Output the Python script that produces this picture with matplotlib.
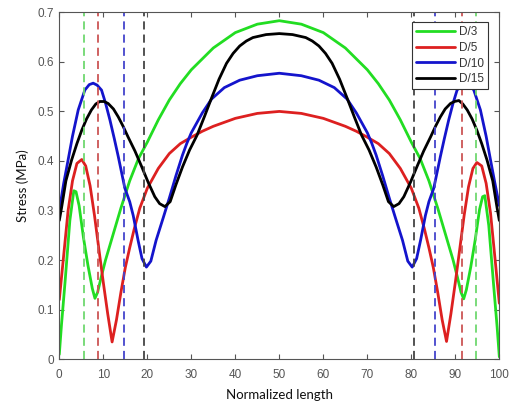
import matplotlib
matplotlib.use("Agg")
import matplotlib.pyplot as plt

# ---------------- data ----------------
labels = ["D/3", "D/5", "D/10", "D/15"]

x_d3 = [0, 0.5, 1.3, 2.4, 3.3, 3.8, 4.5, 5.5, 6.5, 7.5, 8.1, 8.7, 9.5, 10.5, 12, 14, 16, 18, 20, 22.5,
        25, 27.5, 30, 35, 40, 45, 50, 55, 60, 65, 70, 72.5, 75, 77.5, 80, 82, 84, 86, 88, 89.5,
        90.5, 91.3, 91.9, 92.5, 93.5, 94.5, 95.5, 96.2, 96.7, 97.6, 98.7, 99.5, 100]
y_d3 = [0.01, 0.07, 0.155, 0.28, 0.34, 0.338, 0.31, 0.245, 0.19, 0.143, 0.123, 0.135, 0.165, 0.2, 0.245,
        0.305, 0.36, 0.405, 0.438, 0.483, 0.523, 0.556, 0.584, 0.628, 0.659, 0.676, 0.683, 0.676, 0.659,
        0.628, 0.584, 0.556, 0.523, 0.483, 0.438, 0.405, 0.36, 0.305, 0.245, 0.2, 0.165, 0.135, 0.122,
        0.14, 0.186, 0.24, 0.302, 0.328, 0.33, 0.27, 0.15, 0.065, 0.005]

x_d5 = [0, 1, 2, 3, 4, 5.1, 6, 7, 8, 9, 10, 11, 12, 13, 14, 15, 16, 17, 18.3, 20, 22.5, 25, 27.5, 30,
        32.5, 35, 40, 45, 50, 55, 60, 65, 67.5, 70, 72.5, 75, 77.5, 80, 81.7, 83, 84, 85, 86, 87, 88,
        89, 90, 91, 92, 93, 94, 94.9, 96, 97, 98, 99, 100]
y_d5 = [0.12, 0.21, 0.3, 0.36, 0.395, 0.403, 0.39, 0.35, 0.29, 0.222, 0.155, 0.092, 0.035, 0.08, 0.135,
        0.185, 0.225, 0.262, 0.305, 0.345, 0.385, 0.415, 0.435, 0.448, 0.46, 0.47, 0.486, 0.496, 0.5,
        0.496, 0.486, 0.47, 0.46, 0.448, 0.435, 0.415, 0.385, 0.345, 0.305, 0.262, 0.225, 0.185, 0.135,
        0.08, 0.036, 0.092, 0.155, 0.222, 0.29, 0.348, 0.385, 0.397, 0.39, 0.355, 0.295, 0.205, 0.113]

x_d10 = [0, 1, 2, 3, 4.3, 5.8, 6.8, 7.7, 8.6, 9.6, 10.5, 11.5, 12.5, 13.4, 14.9, 16, 16.8, 17.9, 18.8,
         19.8, 20.8, 22, 23.6, 25, 26.5, 28, 29, 30, 32.5, 34.6, 37.5, 41, 45, 50, 55, 59, 62.5, 65.4,
         67.5, 70, 71, 72, 73.5, 75, 76.4, 78, 79.2, 80.2, 81.2, 82.1, 83.2, 84, 85.1, 86.6, 87.5, 88.5,
         89.5, 90.4, 91.4, 92.3, 93.2, 94.2, 95.7, 97, 98, 99, 100]
y_d10 = [0.3, 0.355, 0.402, 0.45, 0.503, 0.543, 0.554, 0.557, 0.553, 0.543, 0.517, 0.483, 0.445, 0.409,
         0.345, 0.318, 0.29, 0.24, 0.203, 0.186, 0.198, 0.24, 0.285, 0.325, 0.37, 0.412, 0.436, 0.457,
         0.497, 0.525, 0.548, 0.563, 0.572, 0.577, 0.572, 0.563, 0.548, 0.525, 0.497, 0.457, 0.436, 0.412,
         0.37, 0.325, 0.285, 0.24, 0.198, 0.186, 0.203, 0.24, 0.29, 0.318, 0.345, 0.409, 0.445, 0.483,
         0.517, 0.543, 0.553, 0.557, 0.554, 0.543, 0.503, 0.45, 0.402, 0.355, 0.31]

x_d15 = [0, 0.5, 1.5, 2.8, 4, 5.1, 6.2, 7.3, 8.3, 9.2, 10.2, 11.1, 12.3, 13.4, 14.5, 15.6, 17.2, 18.7,
         20.2, 21.7, 22.8, 24, 25.2, 26.5, 28, 29.6, 31.3, 33, 34.6, 36.3, 38, 39.5, 41, 42.5, 44, 47,
         50, 53, 56, 57.5, 59, 60.5, 62, 63.7, 65.4, 67, 68.7, 70.4, 72, 73.5, 74.8, 76, 77.2, 78.3,
         79.8, 81.3, 82.8, 84.4, 85.5, 86.6, 87.7, 88.9, 89.8, 90.8, 91.7, 92.7, 93.8, 94.9, 96, 97.2,
         98.5, 99.5, 100]
y_d15 = [0.28, 0.305, 0.36, 0.402, 0.435, 0.462, 0.485, 0.503, 0.515, 0.52, 0.52, 0.516, 0.505, 0.489,
         0.47, 0.449, 0.42, 0.389, 0.357, 0.328, 0.314, 0.308, 0.318, 0.352, 0.388, 0.422, 0.452, 0.49,
         0.527, 0.565, 0.597, 0.617, 0.632, 0.642, 0.649, 0.655, 0.657, 0.655, 0.649, 0.642, 0.632,
         0.617, 0.597, 0.565, 0.527, 0.49, 0.452, 0.422, 0.388, 0.352, 0.318, 0.308, 0.314, 0.328, 0.357,
         0.389, 0.42, 0.449, 0.47, 0.489, 0.505, 0.516, 0.52, 0.522, 0.515, 0.503, 0.485, 0.462, 0.435,
         0.402, 0.36, 0.305, 0.28]

# boundary (dashed) positions for each case
bounds_d3 = [5.5, 94.6]
bounds_d5 = [8.7, 91.5]
bounds_d10 = [14.8, 85.3]
bounds_d15 = [19.3, 80.7]

xticks = [0, 10, 20, 30, 40, 50, 60, 70, 80, 90, 100]
yticks = [0, 0.1, 0.2, 0.3, 0.4, 0.5, 0.6, 0.7]
ytick_labels = ["0", "0.1", "0.2", "0.3", "0.4", "0.5", "0.6", "0.7"]

# ---------------- style ----------------
curve_colors = ["#22dd22", "#dd2020", "#1414cc", "#000000"]
dash_colors = ["#70d870", "#cc5555", "#4444cc", "#444444"]
axis_gray = "#555555"

fig = plt.figure(figsize=(5.09, 4.09), dpi=100)
ax = fig.add_axes([0.1165, 0.1215, 0.8645, 0.8485])

series = [(x_d3, y_d3), (x_d5, y_d5), (x_d10, y_d10), (x_d15, y_d15)]
for (xs, ys), c, lab in zip(series, curve_colors, labels):
    ax.plot(xs, ys, color=c, lw=2.0, label=lab, solid_capstyle="round", solid_joinstyle="round")

for bnds, c in zip([bounds_d3, bounds_d5, bounds_d10, bounds_d15], dash_colors):
    for b in bnds:
        ax.axvline(b, color=c, lw=1.3, dashes=(4.5, 2.8))

ax.set_xlim(0, 100)
ax.set_ylim(0, 0.7)
ax.set_xticks(xticks)
ax.set_yticks(yticks)
ax.set_yticklabels(ytick_labels)

for lbl in ax.get_xticklabels() + ax.get_yticklabels():
    lbl.set_fontfamily("Liberation Sans")
    lbl.set_fontsize(8.5)
    lbl.set_color(axis_gray)

ax.tick_params(axis="both", direction="in", top=True, right=True, length=3.5,
               width=0.8, color=axis_gray)
ax.tick_params(axis="x", pad=7)
ax.tick_params(axis="y", pad=4)
for s in ax.spines.values():
    s.set_color(axis_gray)
    s.set_linewidth(0.8)

ax.set_xlabel("Normalized length", fontfamily="Lato", fontsize=9.5, color="#111111", labelpad=6)
ax.set_ylabel("Stress (MPa)", fontfamily="Lato", fontsize=9.5, color="#111111", labelpad=6)

leg = ax.legend(loc="upper right", bbox_to_anchor=(0.974, 0.971), borderaxespad=0,
                fancybox=False, framealpha=1, edgecolor="#333333",
                prop={"family": "Liberation Sans", "size": 8.5},
                handlelength=3.3, handletextpad=0.3, labelspacing=0.3,
                borderpad=0.35)
leg.get_frame().set_linewidth(0.8)
for t in leg.get_texts():
    t.set_color("#333333")

fig.savefig("out.png", dpi=100)
